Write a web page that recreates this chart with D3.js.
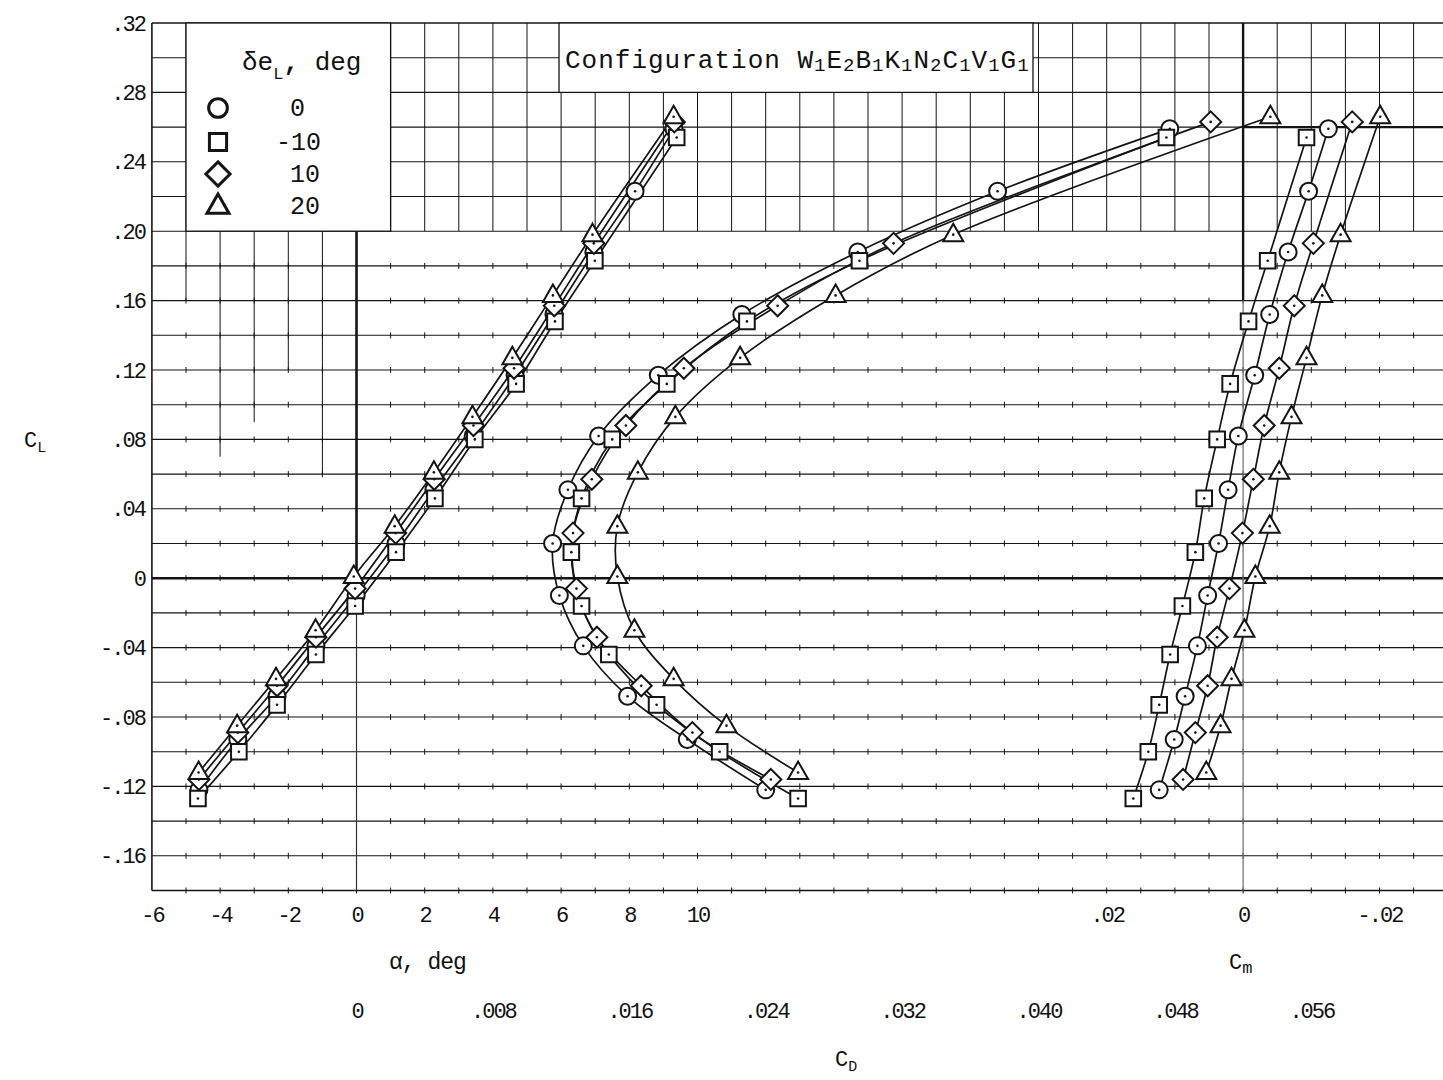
<!DOCTYPE html>
<html><head><meta charset="utf-8">
<script src="https://cdn.jsdelivr.net/npm/d3@7"></script>
<style>
html,body{margin:0;padding:0;background:#fff;}
svg{display:block;}
text{font-family:"Liberation Mono","DejaVu Sans Mono",monospace;fill:#111;}
</style></head><body>
<svg id="chart" width="1443" height="1080"></svg>
<script>
// ---------- tick labels ----------
const clTicks = [-0.16,-0.12,-0.08,-0.04,0,0.04,0.08,0.12,0.16,0.20,0.24,0.28,0.32];
const alphaTicks = [-6,-4,-2,0,2,4,6,8,10];
const cdTicks = [0,0.008,0.016,0.024,0.032,0.040,0.048,0.056];
const cmTicks = [0.02,0,-0.02];
const deflections = ["0","-10","10","20"];
const markerTypes = ["circle","square","diamond","triangle"];

// ---------- series: delta_eL = 0 (circle) ----------
const clCircle    = [-0.122,-0.093,-0.068,-0.039,-0.010,0.020,0.051,0.082,0.117,0.152,0.188,0.223,0.259];
const alphaCircle = [-4.62,-3.48,-2.33,-1.19,-0.01,1.16,2.27,3.42,4.65,5.79,6.96,8.17,9.31];
const cdCircle    = [0.0240,0.0194,0.0159,0.0133,0.0119,0.0115,0.0124,0.0142,0.0177,0.0226,0.0294,0.0376,0.0477];
const cmCircle    = [0.0123,0.0101,0.0085,0.0067,0.0052,0.0036,0.0022,0.0007,-0.0017,-0.0039,-0.0066,-0.0096,-0.0125];
// ---------- delta_eL = -10 (square) ----------
const clSquare    = [-0.127,-0.100,-0.073,-0.044,-0.016,0.015,0.046,0.080,0.112,0.148,0.183,0.254];
const alphaSquare = [-4.65,-3.45,-2.33,-1.19,-0.04,1.16,2.30,3.47,4.68,5.82,6.99,9.39];
const cdSquare    = [0.0259,0.0213,0.0176,0.0148,0.0132,0.0126,0.0132,0.0150,0.0182,0.0229,0.0295,0.0475];
const cmSquare    = [0.0161,0.0139,0.0123,0.0107,0.0089,0.0070,0.0057,0.0038,0.0019,-0.0008,-0.0036,-0.0093];
// ---------- delta_eL = 10 (diamond) ----------
const clDiamond    = [-0.116,-0.089,-0.062,-0.034,-0.006,0.026,0.057,0.088,0.121,0.157,0.193,0.263];
const alphaDiamond = [-4.62,-3.48,-2.33,-1.19,-0.04,1.15,2.28,3.43,4.62,5.80,6.96,9.32];
const cdDiamond    = [0.0243,0.0197,0.0167,0.0141,0.0129,0.0127,0.0138,0.0158,0.0192,0.0247,0.0315,0.0501];
const cmDiamond    = [0.0088,0.0070,0.0052,0.0038,0.0020,0.0001,-0.0015,-0.0031,-0.0053,-0.0075,-0.0103,-0.0160];
// ---------- delta_eL = 20 (triangle) ----------
const clTriangle    = [-0.112,-0.085,-0.058,-0.030,0.001,0.030,0.061,0.093,0.127,0.163,0.198,0.266];
const alphaTriangle = [-4.63,-3.50,-2.36,-1.20,-0.08,1.12,2.27,3.40,4.57,5.76,6.92,9.30];
const cdTriangle    = [0.0259,0.0217,0.0186,0.0163,0.0153,0.0153,0.0165,0.0187,0.0225,0.0281,0.0350,0.0536];
const cmTriangle    = [0.0054,0.0033,0.0017,-0.0002,-0.0018,-0.0039,-0.0053,-0.0071,-0.0093,-0.0116,-0.0143,-0.0201];

const series = [
  {type:"circle",   cl:clCircle,   alpha:alphaCircle,   cd:cdCircle,   cm:cmCircle},
  {type:"square",   cl:clSquare,   alpha:alphaSquare,   cd:cdSquare,   cm:cmSquare},
  {type:"diamond",  cl:clDiamond,  alpha:alphaDiamond,  cd:cdDiamond,  cm:cmDiamond},
  {type:"triangle", cl:clTriangle, alpha:alphaTriangle, cd:cdTriangle, cm:cmTriangle}
];

// ---------- layout ----------
const svg = d3.select("#chart");
const X0 = 356.5, U = 34.1, TOP = 23, BOT = 890.5, RIGHT = 1443;
const LEFT = X0 - 6*U;
const yCL = d3.scaleLinear().domain([-0.18, 0.32]).range([BOT, TOP]);
const xAlpha = d3.scaleLinear().domain([0, 1]).range([X0, X0 + U]);
const xCD = d3.scaleLinear().domain([0, 0.002]).range([X0, X0 + U]);
const xCm = d3.scaleLinear().domain([0, -0.005]).range([X0 + 26*U, X0 + 27*U]);
const ink = "#141414";

// ---------- grid ----------
const grid = svg.append("g");
const hVals = d3.range(-9, 17).map(i => i*0.02);
const cols = d3.range(-6, 32);
const leftExt = {"-5":0.16, "-4":0.07, "-3":0.09, "-2":0.12, "-1":0.06};
cols.forEach(k => {
  const x = X0 + k*U;
  if (k === -6 || k === 0 || k === 26) return;
  const endCL = (k in leftExt) ? leftExt[k] : 0.20;
  grid.append("line").attr("x1", x).attr("x2", x).attr("y1", TOP).attr("y2", yCL(endCL))
    .attr("stroke", ink).attr("stroke-width", 1);
});
// small tick marks of the graph paper
hVals.forEach(v => {
  if (v > 0.19) return;
  cols.forEach(k => {
    if (k <= -6) return;
    const x = X0 + k*U;
    grid.append("line").attr("x1", x).attr("x2", x).attr("y1", yCL(v)-3).attr("y2", yCL(v)+3)
      .attr("stroke", ink).attr("stroke-width", 1);
  });
});
hVals.forEach((v, i) => {
  const isZero = Math.abs(v) < 1e-9;
  grid.append("line").attr("x1", LEFT).attr("x2", RIGHT).attr("y1", yCL(v)).attr("y2", yCL(v))
    .attr("stroke", ink)
    .attr("stroke-width", isZero ? 2.6 : (i === 0 || i === hVals.length-1) ? 1.7 : 1.1);
});
// borders and reference lines
grid.append("line").attr("x1", LEFT).attr("x2", LEFT).attr("y1", TOP).attr("y2", BOT).attr("stroke", ink).attr("stroke-width", 1.6);
grid.append("line").attr("x1", xAlpha(0)).attr("x2", xAlpha(0)).attr("y1", yCL(0.20)).attr("y2", yCL(0)).attr("stroke", ink).attr("stroke-width", 2.6);
grid.append("line").attr("x1", xAlpha(0)).attr("x2", xAlpha(0)).attr("y1", yCL(0)).attr("y2", BOT).attr("stroke", "#333").attr("stroke-width", 1.2);
grid.append("line").attr("x1", xCm(0)).attr("x2", xCm(0)).attr("y1", TOP).attr("y2", yCL(0.16)).attr("stroke", ink).attr("stroke-width", 2.4);
grid.append("line").attr("x1", xCm(0)).attr("x2", xCm(0)).attr("y1", yCL(0.16)).attr("y2", BOT).attr("stroke", "#777").attr("stroke-width", 1.3);
grid.append("line").attr("x1", xCm(0)).attr("x2", RIGHT).attr("y1", yCL(0.26)).attr("y2", yCL(0.26)).attr("stroke", ink).attr("stroke-width", 2.4);

// ---------- boxes ----------
const legendBox = {x: X0 - 5*U, y: TOP, w: 6*U, h: yCL(0.20) - TOP};
svg.append("rect").attr("x", legendBox.x).attr("y", legendBox.y).attr("width", legendBox.w).attr("height", legendBox.h)
  .attr("fill", "#fff").attr("stroke", ink).attr("stroke-width", 1.3);
const cfgBox = {x: 559, y: TOP, w: 474, h: yCL(0.28) - TOP};
svg.append("rect").attr("x", cfgBox.x).attr("y", cfgBox.y).attr("width", cfgBox.w).attr("height", cfgBox.h)
  .attr("fill", "#fff").attr("stroke", ink).attr("stroke-width", 1.3);

// ---------- marker shapes ----------
function markerPath(type, s) {
  const p = d3.path();
  if (type === "circle") { p.moveTo(8.5*s, 0); p.arc(0, 0, 8.5*s, 0, 2*Math.PI); }
  else if (type === "square") { p.rect(-7.8*s, -7.8*s, 15.6*s, 15.6*s); }
  else if (type === "diamond") { p.moveTo(0, -10.5*s); p.lineTo(10.5*s, 0); p.lineTo(0, 10.5*s); p.lineTo(-10.5*s, 0); p.closePath(); }
  else { p.moveTo(0, -11*s); p.lineTo(10*s, 6.5*s); p.lineTo(-10*s, 6.5*s); p.closePath(); }
  return p.toString();
}

// ---------- curves ----------
const plots = [
  {key:"alpha", x:xAlpha},
  {key:"cd", x:xCD},
  {key:"cm", x:xCm}
];
const lineG = svg.append("g");
const markG = svg.append("g");
plots.forEach(pl => {
  series.forEach(s => {
    const pts = s.cl.map((c, i) => ({x: s[pl.key][i], cl: c}));
    const line = d3.line().x(d => pl.x(d.x)).y(d => yCL(d.cl)).curve(d3.curveCatmullRom.alpha(0.5));
    lineG.append("path").attr("d", line(pts)).attr("fill", "none").attr("stroke", ink).attr("stroke-width", 1.7);
    pts.forEach(d => {
      const g = markG.append("g").attr("transform", `translate(${pl.x(d.x)},${yCL(d.cl)})`);
      g.append("path").attr("d", markerPath(s.type, 1)).attr("fill", "#fff").attr("stroke", ink).attr("stroke-width", 2);
      g.append("circle").attr("r", 1.3).attr("fill", ink);
    });
  });
});

// ---------- axes ----------
const tickFont = 22;
function styleAxis(g) {
  g.select(".domain").remove();
  g.attr("font-family", "Liberation Mono, monospace").attr("font-size", tickFont);
  g.selectAll("text").attr("fill", ink).style("letter-spacing", "-2px");
}
const fmtCL = d => d === 0 ? "0" : (d < 0 ? "-" : "") + Math.abs(d).toFixed(2).slice(1);
svg.append("g").attr("transform", `translate(${LEFT},0)`)
  .call(d3.axisLeft(yCL).tickValues(clTicks).tickSize(0).tickPadding(7).tickFormat(fmtCL))
  .call(styleAxis);
svg.append("g").attr("transform", `translate(0,${BOT})`)
  .call(d3.axisBottom(xAlpha).tickValues(alphaTicks).tickSize(0).tickPadding(16).tickFormat(d => d < 0 ? "-" + Math.abs(d) : String(d)))
  .call(styleAxis);
svg.append("g").attr("transform", `translate(0,${BOT})`)
  .call(d3.axisBottom(xCm).tickValues(cmTicks).tickSize(0).tickPadding(16).tickFormat(d => d === 0 ? "0" : (d < 0 ? "-" : "") + Math.abs(d).toFixed(2).slice(1)))
  .call(styleAxis);
svg.append("g").attr("transform", `translate(0,${BOT})`)
  .call(d3.axisBottom(xCD).tickValues(cdTicks).tickSize(0).tickPadding(112).tickFormat(d => d === 0 ? "0" : d.toFixed(3).slice(1)))
  .call(styleAxis);

// ---------- axis titles ----------
function subText(x, y, parts, size, subSize) {
  const t = svg.append("text").attr("x", x).attr("y", y).attr("font-size", size);
  parts.forEach(p => {
    const ts = t.append("tspan").text(p.t);
    if (p.sub) ts.attr("font-size", subSize).attr("dy", p.dy || 6);
  });
  return t;
}
subText(24, 447, [{t:"C"},{t:"L", sub:true, dy:5}], 22, 15);
svg.append("text").attr("x", 389).attr("y", 969).attr("font-size", 23).style("letter-spacing","-1px").text("α, deg");
subText(1229, 969, [{t:"C"},{t:"m", sub:true, dy:4}], 22, 17);
subText(835, 1066, [{t:"C"},{t:"D", sub:true, dy:5}], 22, 15);

// ---------- configuration text ----------
const cfg = svg.append("text").attr("x", 565).attr("y", 68).attr("font-size", 26).style("letter-spacing", "1px");
[["Configuration W",false],["1",true],["E",false],["2",true],["B",false],["1",true],["K",false],["1",true],
 ["N",false],["2",true],["C",false],["1",true],["V",false],["1",true],["G",false],["1",true]].forEach(([s, sub]) => {
  const ts = cfg.append("tspan").text(s);
  if (sub) ts.attr("font-size", 19).attr("dy", 3);
  else ts.attr("dy", -3);
});
cfg.select("tspan").attr("dy", 0);

// ---------- legend ----------
const lt = svg.append("text").attr("x", 242).attr("y", 70).attr("font-size", 26);
lt.append("tspan").text("δe");
lt.append("tspan").text("L").attr("font-size", 17).attr("dy", 9);
lt.append("tspan").text(",").attr("dy", -9).attr("font-weight", "bold");
lt.append("tspan").text(" deg");
const legRows = [108, 142, 174, 206];
markerTypes.forEach((m, i) => {
  svg.append("path").attr("transform", `translate(218,${legRows[i]})`)
    .attr("d", markerPath(m, m === "diamond" ? 1.15 : 1.1)).attr("fill", "none").attr("stroke", ink).attr("stroke-width", 3);
  svg.append("text").attr("x", deflections[i].startsWith("-") ? 276 : 290).attr("y", legRows[i] + 8)
    .attr("font-size", 25).text(deflections[i]);
});
</script>
</body></html>
